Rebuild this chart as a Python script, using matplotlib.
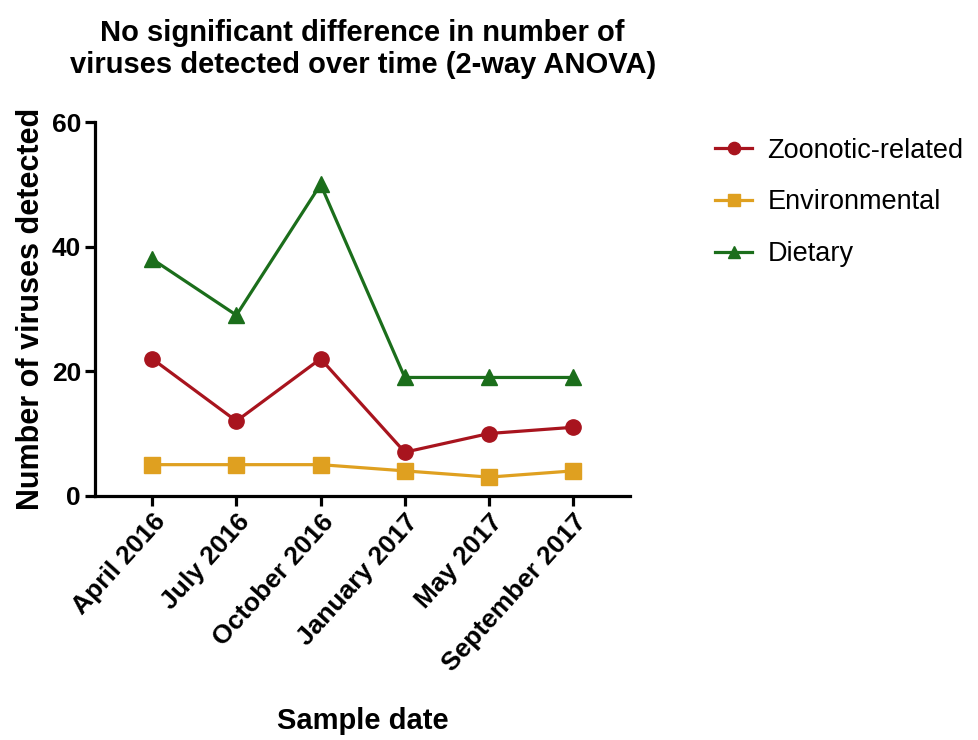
import matplotlib
matplotlib.use("Agg")
import matplotlib.pyplot as plt

plt.rcParams['font.family'] = ['Liberation Sans', 'DejaVu Sans']

dates = ["April 2016", "July 2016", "October 2016", "January 2017", "May 2017", "September 2017"]
zoonotic = [22, 12, 22, 7, 10, 11]
environmental = [5, 5, 5, 4, 3, 4]
dietary = [38, 29, 50, 19, 19, 19]

fig = plt.figure(figsize=(9.79, 7.40), dpi=100)
ax = fig.add_axes([0.097, 0.33, 0.547, 0.505])

x = list(range(len(dates)))
ax.plot(x, zoonotic, color='#A8141E', marker='o', markersize=11, linewidth=2.3, label='Zoonotic-related')
ax.plot(x, environmental, color='#DFA020', marker='s', markersize=11, linewidth=2.3, label='Environmental')
ax.plot(x, dietary, color='#1B6E1B', marker='^', markersize=11, linewidth=2.3, label='Dietary')

ax.set_xlim(-0.68, 5.68)
ax.set_ylim(0, 60)
ax.set_yticks([0, 20, 40, 60])
ax.set_xticks(x)
ax.set_xticklabels(dates, rotation=48, ha='right', rotation_mode='anchor', fontsize=19, fontweight='bold')
for lbl in ax.get_yticklabels():
    lbl.set_fontsize(19)
    lbl.set_fontweight('bold')

for side in ('top', 'right'):
    ax.spines[side].set_visible(False)
for side in ('left', 'bottom'):
    ax.spines[side].set_linewidth(2.3)
ax.tick_params(axis='both', width=2.3, length=7, pad=3)

ax.set_ylabel('Number of viruses detected', fontsize=22, fontweight='bold', labelpad=4)
ax.set_xlabel('Sample date', fontsize=21, fontweight='bold', labelpad=22)
ax.set_title('No significant difference in number of\nviruses detected over time (2-way ANOVA)',
             fontsize=21, fontweight='bold', pad=35, linespacing=1.2)

fig.legend(loc='upper left', bbox_to_anchor=(0.705, 0.847), frameon=False, fontsize=19.5,
           handlelength=1.4, handletextpad=0.55, labelspacing=0.95, markerscale=0.8)

fig.savefig('out.png', dpi=100, facecolor='white')
